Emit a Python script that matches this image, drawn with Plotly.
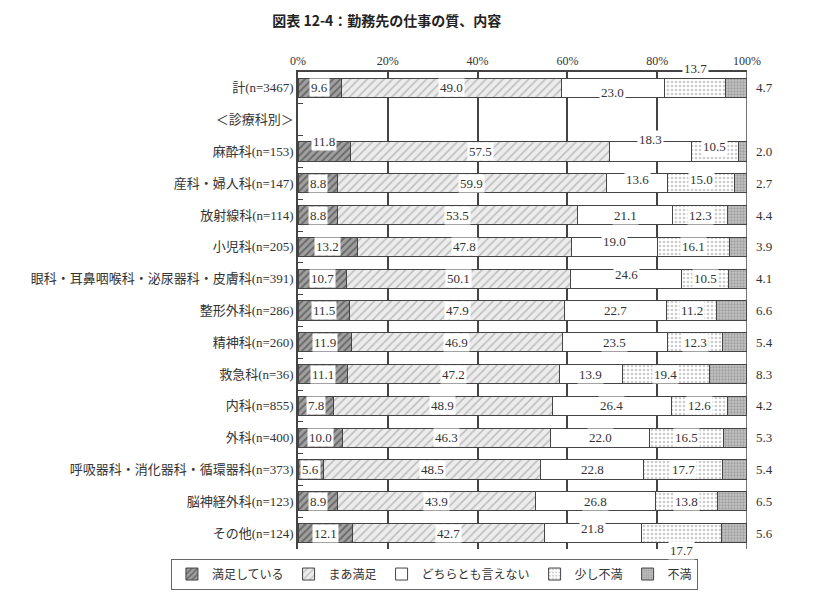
import plotly.graph_objects as go

categories = ["計(n=3467)", "＜診療科別＞", "麻酔科(n=153)", "産科・婦人科(n=147)", "放射線科(n=114)",
              "小児科(n=205)", "眼科・耳鼻咽喉科・泌尿器科・皮膚科(n=391)", "整形外科(n=286)",
              "精神科(n=260)", "救急科(n=36)", "内科(n=855)", "外科(n=400)",
              "呼吸器科・消化器科・循環器科(n=373)", "脳神経外科(n=123)", "その他(n=124)"]

series_names = ["満足している", "まあ満足", "どちらとも言えない", "少し不満", "不満"]

manzoku = [9.6, None, 11.8, 8.8, 8.8, 13.2, 10.7, 11.5, 11.9, 11.1, 7.8, 10.0, 5.6, 8.9, 12.1]
maa_manzoku = [49.0, None, 57.5, 59.9, 53.5, 47.8, 50.1, 47.9, 46.9, 47.2, 48.9, 46.3, 48.5, 43.9, 42.7]
dochira = [23.0, None, 18.3, 13.6, 21.1, 19.0, 24.6, 22.7, 23.5, 13.9, 26.4, 22.0, 22.8, 26.8, 21.8]
sukoshi_fuman = [13.7, None, 10.5, 15.0, 12.3, 16.1, 10.5, 11.2, 12.3, 19.4, 12.6, 16.5, 17.7, 13.8, 17.7]
fuman = [4.7, None, 2.0, 2.7, 4.4, 3.9, 4.1, 6.6, 5.4, 8.3, 4.2, 5.3, 5.4, 6.5, 5.6]

x_ticks = [0, 20, 40, 60, 80, 100]
x_tick_labels = ["0%", "20%", "40%", "60%", "80%", "100%"]

series = [manzoku, maa_manzoku, dochira, sukoshi_fuman, fuman]

styles = [
    dict(bg="#a0a0a0", fg="#333333", shape="/", size=5, solidity=0.4),
    dict(bg="#ececec", fg="#8a8a8a", shape="/", size=6, solidity=0.25),
    dict(bg="#ffffff", fg="#ffffff", shape="", size=6, solidity=0.2),
    dict(bg="#ffffff", fg="#9a9a9a", shape=".", size=4, solidity=0.35),
    dict(bg="#c4c4c4", fg="#777777", shape=".", size=3, solidity=0.45),
]

fig = go.Figure()
for name, vals, st in zip(series_names, series, styles):
    fig.add_trace(go.Bar(
        y=categories, x=vals, name=name, orientation="h",
        marker=dict(color=st["bg"], line=dict(color="#444444", width=1),
                    pattern=dict(shape=st["shape"], fgcolor=st["fg"], bgcolor=st["bg"],
                                 size=st["size"], solidity=st["solidity"])),
        hoverinfo="skip",
    ))

# label vertical nudges (layout only): (row index, series index) -> yshift px
yshift = {(0, 3): 19, (0, 2): -5, (2, 0): 10, (2, 2): 12, (2, 3): 5, (14, 3): -17, (14, 2): 5,
          (3, 2): 4, (3, 3): 4, (5, 2): 5, (6, 2): 4}

lab_font = dict(family="Liberation Serif, Noto Sans CJK JP", size=13, color="#333333")
for r, cat in enumerate(categories):
    cum = 0.0
    for s, vals in enumerate(series):
        v = vals[r]
        if v is None:
            continue
        if s == 4:
            fig.add_annotation(x=100, y=cat, text=f"{v:.1f}", showarrow=False, xanchor="left",
                               xshift=7, yshift=yshift.get((r, s), 0), font=lab_font)
        else:
            fig.add_annotation(x=cum + v / 2, y=cat, text=f"{v:.1f}", showarrow=False,
                               bgcolor="#ffffff", borderpad=1, yshift=yshift.get((r, s), 0),
                               font=lab_font)
        cum += v

fig.add_shape(type="line", x0=100, x1=100, y0=0, y1=1, xref="x", yref="paper",
              line=dict(color="#444444", width=1.5))

fig.update_layout(
    barmode="stack",
    bargap=0.4,
    width=823, height=607,
    paper_bgcolor="#ffffff", plot_bgcolor="#ffffff",
    margin=dict(l=298, r=76, t=72, b=58),
    title=dict(text="<b>図表 12-4：勤務先の仕事の質、内容</b>", x=0.47, xanchor="center",
               y=0.965, yanchor="middle", xref="container", yref="container",
               font=dict(family="Noto Sans CJK JP", size=14, color="#222222")),
    font=dict(family="Liberation Serif, Noto Sans CJK JP", size=13, color="#333333"),
    xaxis=dict(side="top", range=[0, 100], tickmode="array", tickvals=x_ticks, ticktext=x_tick_labels,
               showgrid=True, gridcolor="#444444", gridwidth=1.5, zeroline=False,
               showline=True, linecolor="#444444", linewidth=1.5, ticks="",
               tickfont=dict(family="Liberation Serif", size=12, color="#333333"),
               fixedrange=True),
    yaxis=dict(autorange="reversed", showline=True, linecolor="#444444", linewidth=1.5,
               ticks="inside", tickson="boundaries", ticklen=5, tickcolor="#444444",
               tickfont=dict(family="Liberation Serif, Noto Sans CJK JP", size=13, color="#333333"),
               showgrid=False, fixedrange=True),
    legend=dict(orientation="h", x=-0.283, xanchor="left",
                y=-0.02, yanchor="top",
                bordercolor="#666666", borderwidth=1, bgcolor="#ffffff",
                font=dict(family="Noto Sans CJK JP", size=12, color="#333333"),
                itemwidth=30, traceorder="normal"),
)

fig.write_html("out.html")
